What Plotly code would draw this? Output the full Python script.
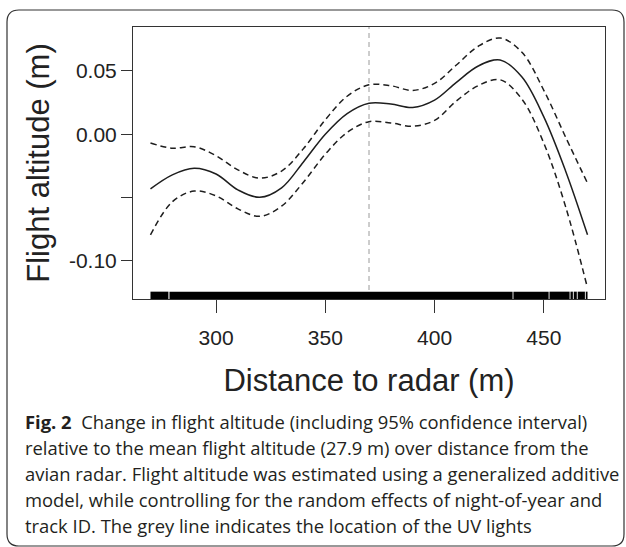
import plotly.graph_objects as go

# ---------------- data ----------------
distance = [270, 280, 290, 300, 310, 320, 330, 340, 350, 360, 370,
            380, 390, 400, 410, 420, 430, 440, 450, 460, 470]
fit = [-0.0432, -0.0321, -0.0269, -0.0314, -0.0440, -0.0499, -0.0424, -0.0219,
       0.0000, 0.0163, 0.0245, 0.0239, 0.0211, 0.0269, 0.0410, 0.0539,
       0.0587, 0.0452, 0.0137, -0.0292, -0.0795]
upper = [-0.0069, -0.0111, -0.0099, -0.0170, -0.0282, -0.0347, -0.0291, -0.0114,
         0.0114, 0.0300, 0.0390, 0.0383, 0.0346, 0.0401, 0.0547, 0.0695,
         0.0760, 0.0647, 0.0347, -0.0024, -0.0387]
lower = [-0.0795, -0.0534, -0.0449, -0.0487, -0.0590, -0.0649, -0.0568, -0.0379,
         -0.0158, 0.0014, 0.0099, 0.0089, 0.0063, 0.0109, 0.0263, 0.0384,
         0.0430, 0.0276, -0.0071, -0.0574, -0.1216]
uv_light_distance = 370
# rug of observed distances (dense, drawn as covered intervals)
rug_start = [270.0, 278.7, 436.1, 452.6, 462.2, 463.7, 465.5, 469.2]
rug_end = [278.2, 435.7, 452.2, 461.8, 463.3, 465.1, 468.8, 470.0]

x_ticks = [300, 350, 400, 450]
y_ticks = [0.05, 0.00, -0.05, -0.10]
y_tick_labels = ["0.05", "0.00", "", "-0.10"]
x_range = [262, 478]
y_range = [-0.1302, 0.0847]

x_title = "Distance to radar (m)"
y_title = "Flight altitude (m)"
caption_lines = [
    "<b>Fig. 2</b>  Change in flight altitude (including 95% confidence interval)",
    "relative to the mean flight altitude (27.9 m) over distance from the",
    "avian radar. Flight altitude was estimated using a generalized additive",
    "model, while controlling for the random effects of night-of-year and",
    "track ID. The grey line indicates the location of the UV lights",
]

# ---------------- layout geometry (pixels) ----------------
FW, FH = 626, 547
L, R, T, B = 133, 605, 27, 299
PW, PH = R - L, B - T


def px(xp):
    return (xp - L) / PW


def py(yp):
    return (B - yp) / PH


ink = "#1e1e1e"
fig = go.Figure()

fig.add_trace(go.Scatter(x=distance, y=upper, mode="lines",
                         line=dict(color=ink, width=1.5, dash="6px,4px", shape="spline"),
                         showlegend=False, hoverinfo="skip"))
fig.add_trace(go.Scatter(x=distance, y=fit, mode="lines",
                         line=dict(color=ink, width=1.5, shape="spline"),
                         showlegend=False))
fig.add_trace(go.Scatter(x=distance, y=lower, mode="lines",
                         line=dict(color=ink, width=1.5, dash="6px,4px", shape="spline"),
                         showlegend=False, hoverinfo="skip"))

shapes = []
# grey line (UV lights)
shapes.append(dict(type="line", xref="x", yref="y domain",
                   x0=uv_light_distance, x1=uv_light_distance, y0=0, y1=1,
                   line=dict(color="#9a9a9a", width=1, dash="5px,4px"), layer="below"))
# rug
for s, e in zip(rug_start, rug_end):
    shapes.append(dict(type="rect", xref="x", yref="y domain",
                       x0=s, x1=e, y0=0, y1=0.027,
                       fillcolor="#000000", line=dict(width=0)))

# rounded frame around whole figure
fx0, fy0, fx1, fy1, r = 7, 10, 624, 546, 12
path = (f"M {px(fx0 + r)},{py(fy0)} L {px(fx1 - r)},{py(fy0)} "
        f"Q {px(fx1)},{py(fy0)} {px(fx1)},{py(fy0 + r)} "
        f"L {px(fx1)},{py(fy1 - r)} Q {px(fx1)},{py(fy1)} {px(fx1 - r)},{py(fy1)} "
        f"L {px(fx0 + r)},{py(fy1)} Q {px(fx0)},{py(fy1)} {px(fx0)},{py(fy1 - r)} "
        f"L {px(fx0)},{py(fy0 + r)} Q {px(fx0)},{py(fy0)} {px(fx0 + r)},{py(fy0)} Z")
shapes.append(dict(type="path", xref="paper", yref="paper", path=path,
                   line=dict(color="#333333", width=1.2), fillcolor="rgba(0,0,0,0)"))

annotations = []
cap_x = 23
cap_y0 = 421
cap_dy = 26.2
for i, line in enumerate(caption_lines):
    annotations.append(dict(text=line, xref="paper", yref="paper",
                            x=px(cap_x), y=py(cap_y0 + i * cap_dy),
                            xanchor="left", yanchor="middle", showarrow=False,
                            font=dict(family="Open Sans", size=18.4, color="#231f20")))

axis_font = dict(family="Liberation Sans, Arial, sans-serif", size=21, color="#222222")
title_font = dict(family="Liberation Sans, Arial, sans-serif", size=31, color="#222222")

fig.update_layout(
    width=FW, height=FH,
    margin=dict(l=L, r=FW - R, t=T, b=FH - B, autoexpand=False),
    paper_bgcolor="white", plot_bgcolor="white",
    shapes=shapes, annotations=annotations,
    xaxis=dict(range=x_range, tickvals=x_ticks, ticks="outside", ticklen=13,
               tickwidth=1, tickcolor="#333333", showline=True, mirror=True,
               linecolor="#333333", linewidth=1, showgrid=False, zeroline=False,
               tickfont=axis_font, ticklabelstandoff=7,
               title=dict(text=x_title, font=title_font, standoff=21)),
    yaxis=dict(range=y_range, tickvals=y_ticks, ticktext=y_tick_labels,
               ticks="outside", ticklen=11, tickwidth=1, tickcolor="#333333",
               showline=True, mirror=True, linecolor="#333333", linewidth=1,
               showgrid=False, zeroline=False, tickfont=axis_font,
               title=dict(text=y_title, font=title_font, standoff=10)),
)

fig.write_html("out.html", config={"displayModeBar": False},
               post_script="document.body.style.margin='0px';")
